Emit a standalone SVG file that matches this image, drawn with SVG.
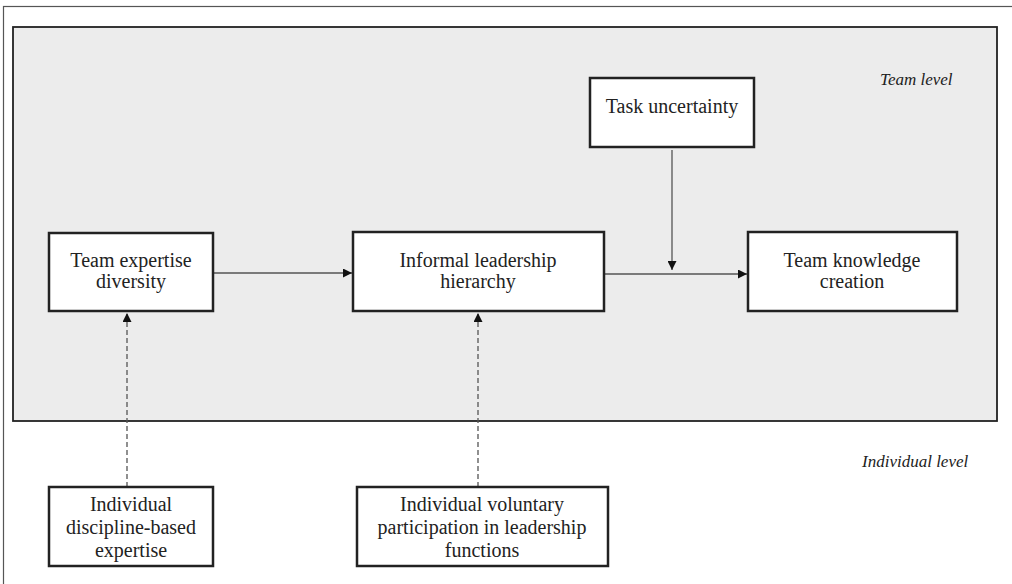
<svg xmlns="http://www.w3.org/2000/svg" width="1012" height="584" viewBox="0 0 1012 584">
<defs>
<style>
.frame{fill:#fff;stroke:#555;stroke-width:1.2}
.level{fill:#ececec;stroke:#222;stroke-width:1.8}
.box{fill:#fff;stroke:#222;stroke-width:2.5}
.t{font-family:"Liberation Serif","Times New Roman",serif;font-size:20px;fill:#222;text-anchor:middle}
.lab{font-family:"Liberation Serif","Times New Roman",serif;font-size:17px;font-style:italic;fill:#222}
.c{fill:none;stroke:#555;stroke-width:1.3}
.d{fill:none;stroke:#555;stroke-width:1.3;stroke-dasharray:5,3}
</style>
<marker id="ah" viewBox="0 0 10 10" refX="10" refY="5" markerWidth="9" markerHeight="9" markerUnits="userSpaceOnUse" orient="auto">
<path d="M0,0 L10,5 L0,10 Z" fill="#111"/>
</marker>
</defs>
<rect class="frame" x="3.5" y="6.5" width="1030" height="600"/>
<rect class="level" x="13" y="27" width="984" height="394"/>
<text class="lab" x="880" y="85">Team level</text>
<text class="lab" x="862" y="467">Individual level</text>
<g id="connectors">
<line class="c" x1="213" y1="273" x2="352" y2="273" marker-end="url(#ah)"/>
<line class="c" x1="604" y1="274" x2="747" y2="274" marker-end="url(#ah)"/>
<line class="c" x1="672" y1="150" x2="672" y2="270" marker-end="url(#ah)"/>
<line class="d" x1="127" y1="487" x2="127" y2="313" marker-end="url(#ah)"/>
<line class="d" x1="478" y1="487" x2="478" y2="313" marker-end="url(#ah)"/>
</g>
<g id="team-expertise-diversity">
<rect class="box" x="49" y="233" width="164" height="78"/>
<text class="t" x="131" y="267">Team expertise</text>
<text class="t" x="131" y="288">diversity</text>
</g>
<g id="informal-leadership-hierarchy">
<rect class="box" x="353" y="232" width="251" height="79"/>
<text class="t" x="478" y="267">Informal leadership</text>
<text class="t" x="478" y="288">hierarchy</text>
</g>
<g id="task-uncertainty">
<rect class="box" x="590" y="78" width="164" height="69"/>
<text class="t" x="672" y="113">Task uncertainty</text>
</g>
<g id="team-knowledge-creation">
<rect class="box" x="748" y="232" width="209" height="79"/>
<text class="t" x="852" y="267">Team knowledge</text>
<text class="t" x="852" y="288">creation</text>
</g>
<g id="individual-discipline-based-expertise">
<rect class="box" x="49" y="487" width="164" height="79"/>
<text class="t" x="131" y="511">Individual</text>
<text class="t" x="131" y="534">discipline-based</text>
<text class="t" x="131" y="557">expertise</text>
</g>
<g id="individual-voluntary-participation">
<rect class="box" x="357" y="487" width="251" height="79"/>
<text class="t" x="482" y="511">Individual voluntary</text>
<text class="t" x="482" y="534">participation in leadership</text>
<text class="t" x="482" y="557">functions</text>
</g>
</svg>
